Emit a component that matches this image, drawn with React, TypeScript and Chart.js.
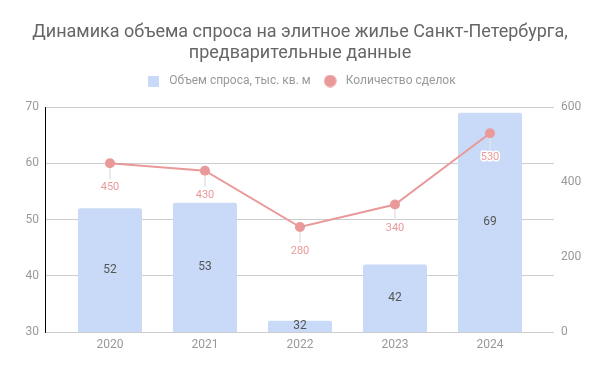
import React, { useEffect, useRef } from 'react';
import { Chart, registerables } from 'chart.js';

Chart.register(...registerables);

const titleLines = ['Динамика объема спроса на элитное жилье Санкт-Петербурга,', 'предварительные данные'];
const years = ['2020', '2021', '2022', '2023', '2024'];
const demand = [52, 53, 32, 42, 69];
const deals = [450, 430, 280, 340, 530];
const demandLabel = 'Объем спроса, тыс. кв. м';
const dealsLabel = 'Количество сделок';
const leftAxis = { min: 30, max: 70, step: 10 };
const rightAxis = { min: 0, max: 600, step: 200 };

const BAR_COLOR = '#c9daf8';
const LINE_COLOR = '#ea9999';
const FONT = 'Roboto, Arial, sans-serif';

function makeSquare(size: number, color: string) {
  const c = document.createElement('canvas');
  c.width = size; c.height = size;
  const g = c.getContext('2d')!;
  g.fillStyle = color;
  g.fillRect(0, 0, size, size);
  return c;
}
function makeCircle(size: number, color: string) {
  const c = document.createElement('canvas');
  c.width = size; c.height = size;
  const g = c.getContext('2d')!;
  g.fillStyle = color;
  g.beginPath();
  g.arc(size / 2, size / 2, size / 2 - 0.3, 0, Math.PI * 2);
  g.fill();
  return c;
}

const valueLabels = {
  id: 'valueLabels',
  afterDatasetsDraw(chart: any) {
    const ctx = chart.ctx as CanvasRenderingContext2D;
    const bottom = chart.chartArea.bottom;
    ctx.save();
    ctx.textAlign = 'center';
    ctx.textBaseline = 'middle';
    const barMeta = chart.getDatasetMeta(0);
    ctx.font = `12px ${FONT}`;
    ctx.fillStyle = '#555555';
    barMeta.data.forEach((el: any, i: number) => {
      const p = el.getProps(['x', 'y', 'base'], true);
      const base = Math.min(p.base, bottom);
      ctx.fillText(String(demand[i]), p.x, (p.y + base) / 2);
    });
    const lineMeta = chart.getDatasetMeta(1);
    lineMeta.data.forEach((el: any, i: number) => {
      const p = el.getProps(['x', 'y'], true);
      ctx.strokeStyle = '#e3e3e3';
      ctx.lineWidth = 1.5;
      ctx.beginPath();
      ctx.moveTo(p.x, p.y + 5);
      ctx.lineTo(p.x, p.y + 16);
      ctx.stroke();
      ctx.font = `11px ${FONT}`;
      ctx.lineJoin = 'round';
      ctx.lineWidth = 3;
      ctx.strokeStyle = '#ffffff';
      ctx.strokeText(String(deals[i]), p.x, p.y + 24);
      ctx.fillStyle = LINE_COLOR;
      ctx.fillText(String(deals[i]), p.x, p.y + 24);
    });
    ctx.restore();
  },
};

export default function App() {
  const ref = useRef<HTMLCanvasElement | null>(null);

  useEffect(() => {
    if (!ref.current) return;
    const sq = makeSquare(11, BAR_COLOR);
    const circ = makeCircle(13, LINE_COLOR);
    const chart = new Chart(ref.current, {
      type: 'bar',
      data: {
        datasets: [
          {
            type: 'bar',
            label: demandLabel,
            data: demand.map((v, i) => ({ x: i, y: v })),
            backgroundColor: BAR_COLOR,
            borderRadius: 2,
            borderSkipped: 'bottom',
            categoryPercentage: 1,
            barPercentage: 0.674,
            yAxisID: 'y',
            order: 1,
          } as any,
          {
            type: 'line',
            label: dealsLabel,
            data: deals.map((v, i) => ({ x: i, y: v })),
            borderColor: LINE_COLOR,
            backgroundColor: LINE_COLOR,
            borderWidth: 2,
            pointRadius: 5,
            pointBackgroundColor: LINE_COLOR,
            pointBorderWidth: 0,
            tension: 0,
            yAxisID: 'y1',
            order: 0,
          } as any,
        ],
      },
      options: {
        responsive: false,
        animation: false,
        layout: { padding: 0 },
        font: { family: FONT },
        plugins: {
          tooltip: { enabled: false },
          title: {
            display: true,
            text: titleLines,
            color: '#666666',
            font: { family: FONT, size: 18, weight: 'normal', lineHeight: 1.2 },
            padding: { top: 21.2, bottom: 0.6 },
          },
          subtitle: {
            display: true,
            text: '',
            weight: 500,
            position: 'top',
            font: { size: 10, lineHeight: 1 },
            padding: 0,
          } as any,
          legend: {
            display: true,
            position: 'top',
            labels: {
              usePointStyle: true,
              pointStyleWidth: 19,
              padding: 10,
              color: '#999999',
              font: { family: FONT, size: 12 },
              generateLabels: (c: any) => {
                const items = (Chart.defaults.plugins.legend.labels as any).generateLabels(c);
                items.sort((a: any, b: any) => a.datasetIndex - b.datasetIndex);
                items.forEach((it: any) => {
                  it.pointStyle = it.datasetIndex === 0 ? sq : circ;
                });
                return items;
              },
            },
          },
        },
        scales: {
          x: {
            type: 'linear',
            min: -0.684,
            max: 4.674,
            offset: false,
            grid: { display: false, drawTicks: false },
            border: { display: false },
            afterBuildTicks: (s: any) => {
              s.ticks = years.map((_, i) => ({ value: i }));
            },
            afterFit: (s: any) => { s.height = 39; },
            ticks: {
              autoSkip: false,
              maxRotation: 0,
              padding: 6,
              color: '#999999',
              font: { family: FONT, size: 12 },
              callback: (v: any) => years[v as number] ?? '',
            },
          },
          y: {
            type: 'linear',
            position: 'left',
            min: leftAxis.min,
            max: leftAxis.max,
            grid: { color: '#cccccc', drawTicks: false, lineWidth: 1 },
            border: { display: true, color: '#000000', width: 1 },
            afterFit: (s: any) => { s.width = 45; },
            ticks: {
              stepSize: leftAxis.step,
              padding: 6,
              color: '#999999',
              font: { family: FONT, size: 12 },
            },
          },
          y1: {
            type: 'linear',
            position: 'right',
            min: rightAxis.min,
            max: rightAxis.max,
            grid: { display: false, drawTicks: false },
            border: { display: false },
            afterFit: (s: any) => { s.width = 46; },
            ticks: {
              stepSize: rightAxis.step,
              padding: 7,
              color: '#999999',
              font: { family: FONT, size: 12 },
            },
          },
        },
      } as any,
      plugins: [valueLabels],
    });
    return () => chart.destroy();
  }, []);

  return (
    <div style={{ position: 'fixed', left: 0, top: 0, width: 600, height: 371, background: '#fff' }}>
      <canvas ref={ref} width={600} height={371} style={{ display: 'block' }} />
    </div>
  );
}
